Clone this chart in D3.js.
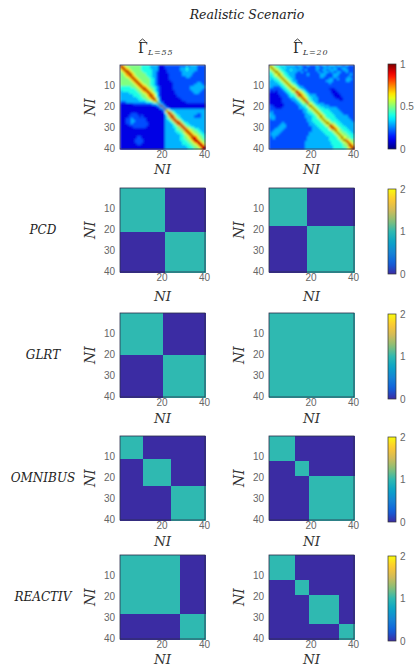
<!DOCTYPE html>
<html>
<head>
<meta charset="utf-8">
<script src="https://cdn.jsdelivr.net/npm/d3@7/dist/d3.min.js"></script>
<style>
  body { margin: 0; background: #fff; }
  .tick text { fill: #666; font-family: "Liberation Sans", Arial, sans-serif; font-size: 10px; }
</style>
</head>
<body>
<div id="chart"></div>
<script>
// Coherence matrices, one string per row.
// Each digit is an index into coherenceLevels.
const coherenceLevels = [0.02, 0.1, 0.2, 0.3, 0.4, 0.5, 0.6, 0.75, 0.85, 1];

const gammaL55 = [
  "9765555555 4444333311 1222222222 2323332222",
  "7976555555 4444333311 1222222233 3433332222",
  "6797655555 4444433311 1122222233 3433332222",
  "5679765555 5444433211 1122222223 3333322222",
  "5567976555 5544433211 1112222223 3333222222",
  "5556797655 5554433211 1112222222 2332222222",
  "5555679765 5555443211 1112222222 2222222222",
  "5555567976 5555443211 1111222222 2222222222",
  "5555556797 6555443211 1111122222 2222223322",
  "5555555679 7655443211 1111122222 2222233332",
  "4444455567 9765544321 1111122222 2223333333",
  "4444444556 7976554321 1111122222 2223333332",
  "3444444455 6797654321 1111112222 2222333322",
  "3333444445 5679765421 1111112222 2222233222",
  "3333334444 5567976421 1111111222 2222222222",
  "3333333344 4556797531 1111111122 2222222222",
  "3333333334 4455679631 1111111112 2222222222",
  "2223333333 3344456942 1111111111 1222222222",
  "1111112222 2222233493 1111111111 1111111111",
  "1111111111 1111111239 3111111111 1111111111",
  "1111111111 1111111113 9321111111 1111111111",
  "1111111111 1111111111 3964333333 3333333333",
  "1111111111 1111111111 2697543333 3333333333",
  "1111122211 1111111111 1479754333 3333332233",
  "1111222221 2111111111 1357975433 3333322233",
  "1112232222 2211111111 1345797543 3333333333",
  "1112233222 2211111111 1334579754 3333333333",
  "1112232222 2221111111 1333457975 4433333333",
  "1111222222 2221111111 1333345797 5443333333",
  "1111112222 2211111111 1333344579 7554433333",
  "1111111111 1111111111 1333334557 9765544333",
  "1111111111 1111111111 1333334455 7976554433",
  "1111111111 1111111111 1333333445 6797655443",
  "1111111111 1111111111 1333333344 5679765544",
  "1111111122 1111111111 1333333344 5567986554",
  "1111111222 2111111111 1333333344 4556898655",
  "1111111222 2111111111 1333333334 4455689865",
  "1111111122 1111111111 1333333334 4445568986",
  "1111111111 1111111111 1333333333 3444556898",
  "1111111111 1111111111 1333333333 3344455689"
];

const gammaL20 = [
  "9654434333 3323322232 2232233233 3233223222",
  "6965443433 3332332222 2233223332 3322332222",
  "5696544333 4333322322 2232233233 3322233222",
  "4569654433 3332232222 2223223323 2233223222",
  "4456965443 3322222232 2222333222 3332222232",
  "3445696544 3322222222 2222332222 3322222322",
  "4344569654 4322222222 2222222233 2232223332",
  "3334456965 4332222222 2222222333 2222223322",
  "3333445696 5432222222 2222222232 2222222222",
  "3333344569 6543222222 2222222222 2222222222",
  "3322234456 9654332222 2222222222 2222222222",
  "2222223445 6965433222 2222222211 1222222222",
  "2121222344 5697654322 2222222221 1122222222",
  "1111222234 4579765432 2222222221 1112222222",
  "1111122223 4457976543 3322222222 1111222222",
  "1111112222 3345697654 3332222222 2111122222",
  "1111112222 2334569754 3332222222 2221122222",
  "1111112222 2233456975 4332222222 2222222222",
  "1111111222 2223345596 5433332222 2222222222",
  "2211111222 2222334469 6544333322 2222222222",
  "2221112222 2222333446 9654443333 3322222222",
  "2222222222 2222223345 6965444433 3332222222",
  "2322222222 2222223344 5696544443 3333222222",
  "3322222222 2222222334 4569654444 3333322222",
  "3332222222 2222222333 4456965444 4333333222",
  "2332222222 2222222233 4445696544 4433333322",
  "2222222222 2222222233 4444569654 4443333332",
  "2222223222 2222222223 3444456965 5444333333",
  "2222233322 2222222223 3344445697 6544433333",
  "2222333322 2222222222 3334444579 7654443333",
  "2223333222 2222222222 3333444467 9765444333",
  "2233332222 2222222222 3333344445 6965544433",
  "2333322222 2222222223 3333334444 5696554443",
  "2333222222 2222222223 3333333444 4569655444",
  "2232222222 2222222233 3333333344 4456965544",
  "2222222222 2222222233 3333333344 4445697655",
  "2222222222 2222222333 3333333334 4444569765",
  "2222222222 2222222333 3333333334 4444456976",
  "2222222222 2222222333 3333333333 4444455797",
  "2222222222 2222222333 3333333333 4444445679"
];

// cluster sizes found by each method (consecutive NI indices)
const pcdL55 = [21, 19];
const pcdL20 = [18, 22];
const glrtL55 = [20, 20];
const glrtL20 = [40];
const omnibusL55 = [11, 13, 16];
const omnibusL20 = [12, 7, 21];
const reactivL55 = [28, 12];
const reactivL20 = [12, 7, 14, 7];

const methods = ["PCD", "GLRT", "OMNIBUS", "REACTIV"];
const subscripts = ["L=55", "L=20"];
const yTicks = [10, 20, 30, 40];
const xTicks = [20, 40];
const jetTicks = [0, 0.5, 1];
const labelTicks = [0, 1, 2];

const width = 417, height = 670;
const panelW = 85, panelH = 84;
const colLeft = [120, 269];
const rowTop = [65, 188, 313, 436, 555];
const xTitleGap = [25, 29, 26, 26, 25];
const cbX = 388, cbW = 8;

const svg = d3.select("#chart").append("svg")
    .attr("width", width)
    .attr("height", height)
    .style("font-family", "'DejaVu Serif', serif");

const defs = svg.append("defs");
defs.append("filter")
    .attr("id", "soft")
    .attr("x", 0).attr("y", 0).attr("width", 1).attr("height", 1)
    .append("feGaussianBlur")
    .attr("stdDeviation", 0.9)
    .attr("edgeMode", "duplicate");

const x = d3.scaleLinear().domain([0.5, 40.5]).range([0, panelW]);
const y = d3.scaleLinear().domain([0.5, 40.5]).range([0, panelH]);

const jet = d3.scaleLinear()
    .domain([0, 0.125, 0.375, 0.625, 0.875, 1])
    .range(["#00007f", "#0000ff", "#00ffff", "#ffff00", "#ff0000", "#7f0000"])
    .clamp(true);

const parula = d3.scaleLinear()
    .domain([0, 0.25, 0.5, 0.75, 1, 1.25, 1.5, 1.75, 2])
    .range(["#3b2ca3", "#1160dc", "#1584d6", "#0aa4c8", "#2fb9b1", "#87bf77", "#d1bb59", "#fec832", "#f9fb0e"])
    .clamp(true);

function parseRows(rows) {
    const cells = [];
    rows.forEach((r, i) => {
        r.split(" ").join("").split("").forEach((c, j) => {
            cells.push({ i: i + 1, j: j + 1, v: coherenceLevels[+c] });
        });
    });
    return cells;
}

function clusterCells(sizes) {
    const labels = sizes.flatMap((n, k) => Array(n).fill(k));
    const cells = [];
    labels.forEach((a, i) => labels.forEach((b, j) => {
        cells.push({ i: i + 1, j: j + 1, v: a === b ? 1 : 0 });
    }));
    return cells;
}

function drawPanel(left, top, cells, color, soft, gap) {
    const g = svg.append("g").attr("transform", `translate(${left},${top})`);
    const cg = g.append("g")
        .attr("shape-rendering", "crispEdges");
    if (soft) cg.attr("filter", "url(#soft)");
    cg.selectAll("rect")
        .data(cells)
        .join("rect")
        .attr("x", d => x(d.j - 0.5))
        .attr("y", d => y(d.i - 0.5))
        .attr("width", x(1.5) - x(0.5) + 0.5)
        .attr("height", y(1.5) - y(0.5) + 0.5)
        .attr("fill", d => color(d.v));

    g.append("rect")
        .attr("width", panelW)
        .attr("height", panelH)
        .attr("fill", "none")
        .attr("stroke", "#2b2d4a")
        .attr("stroke-width", 0.8);

    const ya = g.append("g").call(d3.axisLeft(y).tickValues(yTicks).tickSize(0).tickPadding(5));
    ya.select(".domain").remove();
    const xa = g.append("g").attr("transform", `translate(0,${panelH})`)
        .call(d3.axisBottom(x).tickValues(xTicks).tickSize(0).tickPadding(2));
    xa.select(".domain").remove();

    // axis titles
    g.append("text")
        .attr("transform", `translate(-25,${panelH / 2}) rotate(-90)`)
        .attr("text-anchor", "middle")
        .attr("font-style", "italic")
        .attr("font-size", 14)
        .attr("fill", "#333")
        .text("NI");
    g.append("text")
        .attr("x", panelW / 2)
        .attr("y", panelH + gap)
        .attr("text-anchor", "middle")
        .attr("font-style", "italic")
        .attr("font-size", 13.5)
        .attr("fill", "#333")
        .text("NI");
}

function drawColorbar(top, color, ticks, id) {
    const lo = ticks[0], hi = ticks[ticks.length - 1];
    const grad = defs.append("linearGradient")
        .attr("id", id)
        .attr("x1", 0).attr("y1", 1).attr("x2", 0).attr("y2", 0);
    d3.range(0, 1.0001, 0.05).forEach(t => {
        grad.append("stop")
            .attr("offset", t)
            .attr("stop-color", color(lo + t * (hi - lo)));
    });
    const cy = d3.scaleLinear().domain([lo, hi]).range([panelH + 1, 0]);
    const g = svg.append("g").attr("transform", `translate(${cbX},${top})`);
    g.append("rect")
        .attr("width", cbW)
        .attr("height", panelH + 1)
        .attr("fill", `url(#${id})`)
        .attr("stroke", "#333")
        .attr("stroke-width", 0.7);
    g.selectAll("text")
        .data(ticks)
        .join("text")
        .attr("x", cbW + 4)
        .attr("y", d => cy(d))
        .attr("dy", "0.35em")
        .attr("fill", "#666")
        .attr("font-family", "'Liberation Sans', Arial, sans-serif")
        .attr("font-size", 10)
        .text(d => d);
}

// title
svg.append("text")
    .attr("x", 247)
    .attr("y", 19)
    .attr("text-anchor", "middle")
    .attr("font-style", "italic")
    .attr("font-size", 12.5)
    .attr("fill", "#222")
    .text("Realistic Scenario");

// column headers: hat Gamma with subscript
subscripts.forEach((s, k) => {
    const hx = [138, 293][k];
    const h = svg.append("g").attr("transform", `translate(${hx},53)`);
    h.append("text")
        .attr("font-size", 14)
        .attr("fill", "#222")
        .text("Γ");
    h.append("path")
        .attr("d", "M1.5,-11.5 L4.5,-14 L7.5,-11.5")
        .attr("fill", "none")
        .attr("stroke", "#222")
        .attr("stroke-width", 0.9);
    h.append("text")
        .attr("x", 10)
        .attr("y", 2)
        .attr("font-size", 8)
        .attr("font-style", "italic")
        .attr("fill", "#333")
        .attr("letter-spacing", 0.8)
        .text(s);
});

drawPanel(colLeft[0], rowTop[0], parseRows(gammaL55), jet, true, xTitleGap[0]);
drawPanel(colLeft[1], rowTop[0], parseRows(gammaL20), jet, true, xTitleGap[0]);
drawColorbar(rowTop[0] - 1, jet, jetTicks, "cbjet");

const clusters = [
    [pcdL55, pcdL20],
    [glrtL55, glrtL20],
    [omnibusL55, omnibusL20],
    [reactivL55, reactivL20]
];

methods.forEach((m, k) => {
    const top = rowTop[k + 1];
    svg.append("text")
        .attr("x", 43)
        .attr("y", top + panelH / 2)
        .attr("dy", "0.35em")
        .attr("text-anchor", "middle")
        .attr("font-style", "italic")
        .attr("font-size", 12)
        .attr("fill", "#222")
        .text(m);
    drawPanel(colLeft[0], top, clusterCells(clusters[k][0]), parula, false, xTitleGap[k + 1]);
    drawPanel(colLeft[1], top, clusterCells(clusters[k][1]), parula, false, xTitleGap[k + 1]);
    drawColorbar(top + 1, parula, labelTicks, "cbpar" + k);
});
</script>
</body>
</html>
